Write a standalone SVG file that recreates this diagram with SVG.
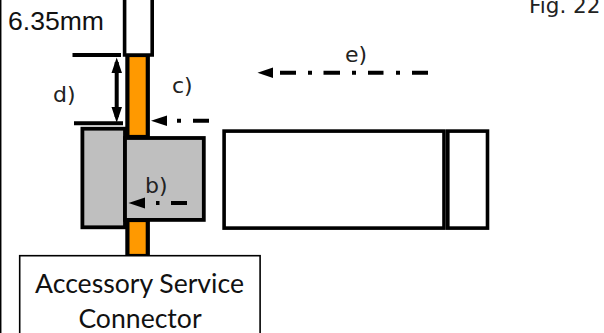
<svg xmlns="http://www.w3.org/2000/svg" width="604" height="333" viewBox="0 0 604 333">
<style>
.o{fill:#fff;stroke:#000;stroke-width:3.6}
.g{fill:#bfbfbf;stroke:#000;stroke-width:3.8}
.p{fill:#f90;stroke:#000;stroke-width:4.2}
.k{stroke:#000;stroke-width:4;fill:none}
.h{fill:#000;stroke:none}
.dv{font-family:"DejaVu Sans",sans-serif;font-size:22px;fill:#222}
.lb{font-family:"Lato","Open Sans",sans-serif;font-size:26.6px;fill:#111;text-anchor:middle}
</style>
<rect width="604" height="333" fill="#fff"/>
<g id="page-edge"><line x1="0.7" y1="0" x2="0.7" y2="333" stroke="#000" stroke-width="1.5"/></g>
<g id="shaft-top"><rect class="p" x="127.4" y="55" width="20.4" height="82"/></g>
<g id="shaft-bottom"><rect class="p" x="127.4" y="220" width="20.4" height="36"/></g>
<g id="cable"><path class="o" d="M124.600 -3V55H152.200V-3"/></g>
<g id="clip-left"><rect class="g" x="82.4" y="128.7" width="42.6" height="98.6"/></g>
<g id="clip-right"><rect class="g" x="125" y="138" width="78.8" height="81.9"/></g>
<g id="housing"><rect class="o" x="224.1" y="131.1" width="219.9" height="97"/></g>
<g id="housing-end"><rect class="o" x="447.8" y="131.1" width="39.7" height="97"/></g>
<g id="service-connector">
<rect x="19.7" y="255.7" width="240.4" height="85" fill="#fff" stroke="#000" stroke-width="1.6"/>
<text class="lb" x="139.500" y="293">Accessory Service</text>
<text class="lb" x="140" y="328">Connector</text>
</g>
<g id="connectors">
<path class="k" d="M72.500 55H121M74 123.300H123M116.700 62V117"/>
<path class="h" d="M116.700 57.500L122 73H111.500ZM116.700 122.700L111.500 107H122Z"/>
<path class="k" d="M193 120.700H209M177 120.700H181"/>
<path class="h" d="M151 120.700L167 115.500V126Z"/>
<path class="k" d="M171 203H187M156 203H159.500"/>
<path class="h" d="M128.500 203L145 197.500V208.500Z"/>
<path class="k" d="M280 72.700H296M308 72.700H312M323.500 72.700H340M352 72.700H356M368 72.700H383.500M396 72.700H400M412 72.700H428"/>
<path class="h" d="M257.500 72.700L273 67.500V78Z"/>
</g>
<g id="labels">
<text x="8" y="30" font-family="Liberation Sans,sans-serif" font-size="26" fill="#111" textLength="96" lengthAdjust="spacingAndGlyphs">6.35mm</text>
<text class="dv" x="53" y="101.500">d)</text>
<text class="dv" x="172" y="93">c)</text>
<text class="dv" x="145" y="193">b)</text>
<text class="dv" x="345" y="62">e)</text>
<text x="529" y="13" font-family="DejaVu Sans,sans-serif" font-size="21.500" fill="#222">Fig. 22</text>
</g>
</svg>
